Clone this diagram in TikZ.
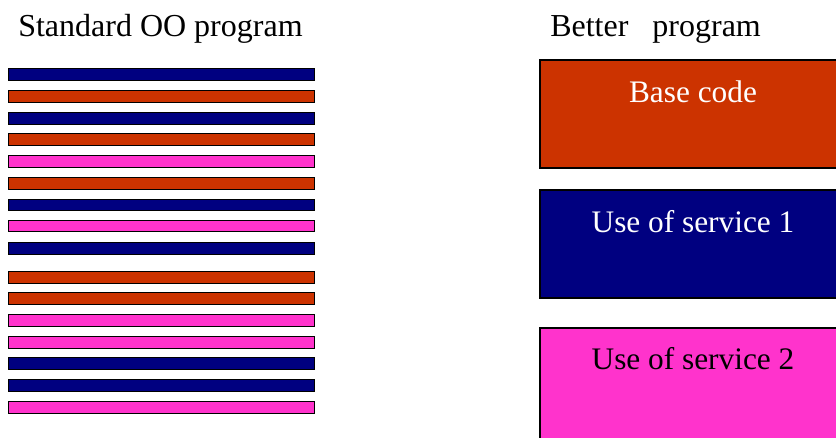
\documentclass[tikz,border=0pt]{standalone}
\usepackage{fontspec}
\setmainfont{Liberation Serif}
\definecolor{navy}{HTML}{000080}
\definecolor{rust}{HTML}{CC3300}
\definecolor{rose}{HTML}{FF33CC}
\begin{document}
\begin{tikzpicture}[x=0.75pt,y=-0.75pt,
  stripe/.style={draw=black,line width=1.1pt},
  block/.style={draw=black,line width=0.8pt},
  heading/.style={font=\fontsize{24}{28}\selectfont,anchor=base west,inner sep=0pt},
  label/.style={font=\fontsize{23.5}{28}\selectfont,anchor=base,inner sep=0pt}]
\useasboundingbox (0,0) rectangle (836,438);
\clip (0,0) rectangle (836,438);

% headings
\node[heading] (stdtitle) at (18,37) {Standard OO program};
\node[heading] (bettitle) at (550,37) {Better\hspace{18pt}program};

% interleaved code of a standard program
\foreach \c/\col in {74.5/navy,96.5/rust,118.5/navy,139.5/rust,161.5/rose,
                     183.5/rust,205/navy,226/rose,248.5/navy,
                     277.5/rust,298.5/rust,320.5/rose,342.5/rose,
                     363.5/navy,385.5/navy,407.5/rose}
  \draw[stripe,fill=\col] (8.75,\c-5.75) rectangle (314.25,\c+5.75);

% separated concerns of the better program
\draw[block,fill=rust] (540,60) rectangle (846,168);
\draw[block,fill=navy] (540,190) rectangle (846,298);
\draw[block,fill=rose] (540,328) rectangle (846,450);
\node[label,text=white] (base) at (693,103) {Base code};
\node[label,text=white] (svc1) at (693,233) {Use of service 1};
\node[label,text=black] (svc2) at (693,370) {Use of service 2};
\end{tikzpicture}
\end{document}
